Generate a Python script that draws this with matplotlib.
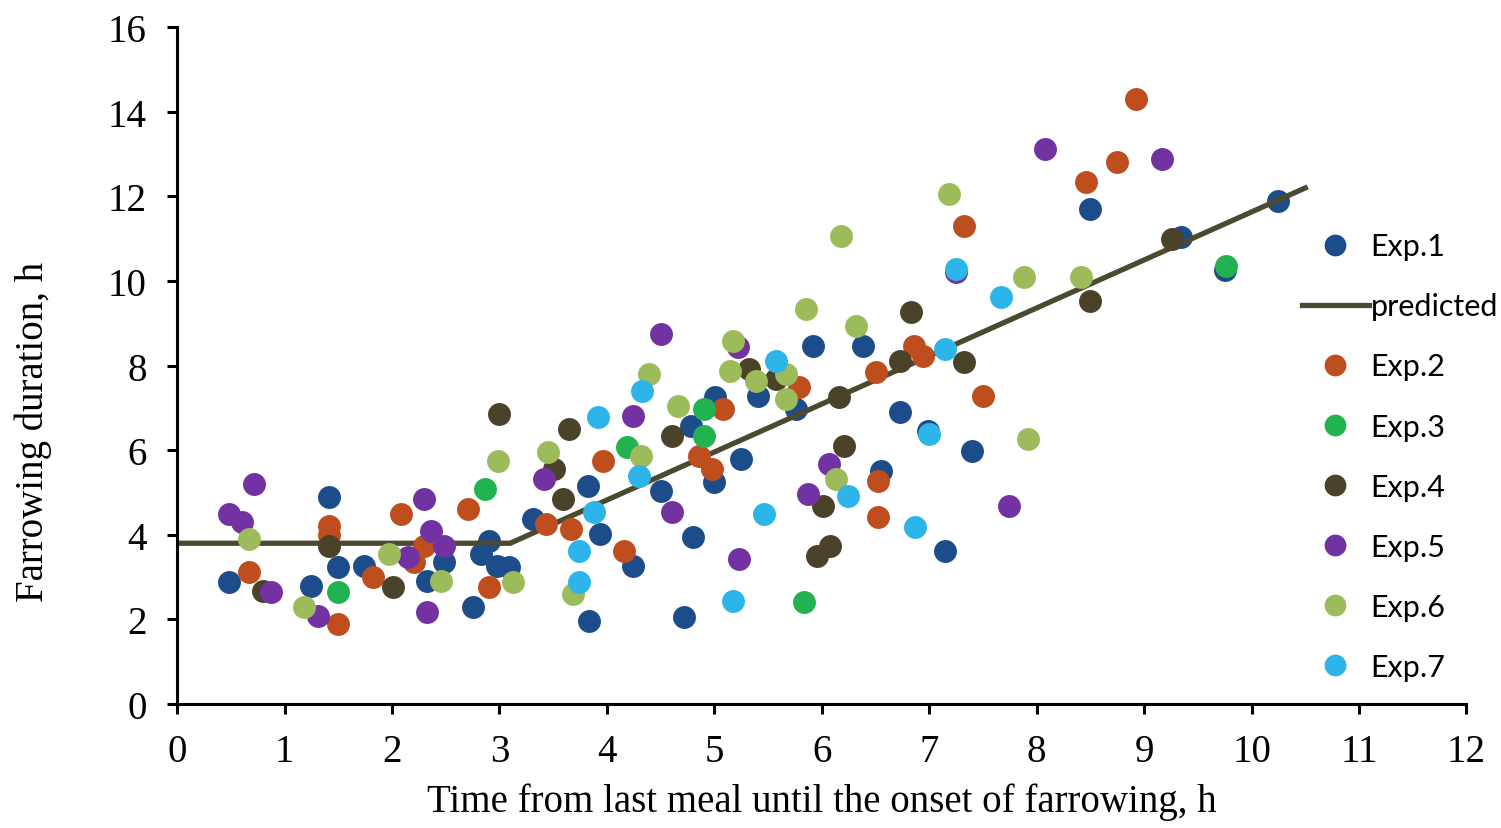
'''
Farrowing duration vs time since last meal, by experiment
'''
import matplotlib
matplotlib.use('Agg')
import matplotlib.pyplot as plt

exp1_x = [0.48, 1.25, 1.41, 1.50, 1.74, 2.33, 2.48, 2.75, 2.83, 2.90, 2.98, 3.09, 3.31, 3.82, 3.83,
          3.94, 4.24, 4.50, 4.72, 4.78, 4.80, 5.00, 5.01, 5.25, 5.41, 5.76, 5.92, 6.38, 6.55, 6.73,
          6.99, 7.15, 7.40, 8.50, 9.34, 9.75, 10.25]
exp1_y = [2.88, 2.79, 4.89, 3.24, 3.27, 2.91, 3.35, 2.29, 3.55, 3.85, 3.27, 3.24, 4.37, 5.15, 1.96,
          4.02, 3.26, 5.04, 2.06, 6.57, 3.95, 5.25, 7.25, 5.79, 7.28, 6.97, 8.47, 8.47, 5.51, 6.90,
          6.45, 3.62, 5.98, 11.70, 11.04, 10.25, 11.89]

exp2_x = [0.67, 1.41, 1.41, 1.50, 1.82, 2.08, 2.20, 2.30, 2.71, 2.90, 3.43, 3.67, 3.96, 4.16, 4.86,
          4.98, 5.08, 5.79, 6.50, 6.52, 6.52, 6.86, 6.94, 7.32, 7.50, 8.46, 8.75, 8.92]
exp2_y = [3.12, 4.21, 4.00, 1.89, 3.00, 4.49, 3.35, 3.73, 4.61, 2.77, 4.26, 4.13, 5.74, 3.61, 5.87,
          5.55, 6.97, 7.49, 7.84, 5.27, 4.42, 8.47, 8.23, 11.30, 7.28, 12.34, 12.81, 14.30]

exp3_x = [1.50, 2.87, 4.19, 4.90, 4.90, 5.83, 9.76]
exp3_y = [2.65, 5.08, 6.08, 6.97, 6.34, 2.41, 10.35]

exp4_x = [0.80, 1.41, 2.01, 3.00, 3.51, 3.59, 3.65, 4.61, 5.32, 5.57, 5.96, 6.01, 6.08, 6.16, 6.21,
          6.73, 6.83, 7.32, 8.50, 9.26]
exp4_y = [2.67, 3.74, 2.77, 6.86, 5.55, 4.85, 6.50, 6.34, 7.92, 7.68, 3.50, 4.68, 3.74, 7.26, 6.10,
          8.11, 9.27, 8.08, 9.53, 10.99]

exp5_x = [0.48, 0.60, 0.72, 0.87, 1.31, 2.15, 2.30, 2.33, 2.36, 2.48, 3.41, 4.24, 4.50, 4.61, 5.22,
          5.23, 5.87, 6.07, 7.25, 7.74, 8.08, 9.17]
exp5_y = [4.49, 4.30, 5.20, 2.65, 2.08, 3.47, 4.85, 2.17, 4.09, 3.74, 5.32, 6.81, 8.75, 4.53, 8.44,
          3.43, 4.96, 5.67, 10.21, 4.68, 13.12, 12.88]

exp6_x = [0.67, 1.18, 1.97, 2.46, 2.99, 3.13, 3.45, 3.68, 4.32, 4.39, 4.66, 5.15, 5.17, 5.39, 5.67,
          5.67, 5.85, 6.13, 6.18, 6.32, 7.18, 7.88, 7.92, 8.41]
exp6_y = [3.90, 2.29, 3.55, 2.91, 5.74, 2.88, 5.96, 2.60, 5.87, 7.80, 7.04, 7.87, 8.58, 7.64, 7.80,
          7.21, 9.34, 5.32, 11.06, 8.94, 12.06, 10.09, 6.26, 10.09]

exp7_x = [3.74, 3.74, 3.88, 3.92, 4.30, 4.33, 5.17, 5.46, 5.57, 6.24, 6.87, 7.00, 7.15, 7.25, 7.67]
exp7_y = [2.88, 3.61, 4.53, 6.78, 5.39, 7.40, 2.43, 4.49, 8.11, 4.92, 4.18, 6.38, 8.39, 10.28, 9.62]

pred_x = [0, 3.1, 10.5]
pred_y = [3.8, 3.8, 12.2]

series = [
    ('Exp.2', exp2_x, exp2_y, '#BF4E1E'),
    ('Exp.3', exp3_x, exp3_y, '#22B24F'),
    ('Exp.4', exp4_x, exp4_y, '#4A4229'),
    ('Exp.5', exp5_x, exp5_y, '#7232A2'),
    ('Exp.6', exp6_x, exp6_y, '#9CBB5A'),
    ('Exp.7', exp7_x, exp7_y, '#2DB4E8'),
]

fig = plt.figure(figsize=(15.01, 8.29), dpi=100)
ax = fig.add_axes([0.118, 0.1496, 0.859, 0.8164])

ms = 16.5
ax.plot(exp1_x, exp1_y, 'o', color='#1C4D8A', markersize=ms, markeredgewidth=0, label='Exp.1')
ax.plot(pred_x, pred_y, '-', color='#4B4930', linewidth=3.8, label='predicted')
for name, xs, ys, col in series:
    ax.plot(xs, ys, 'o', color=col, markersize=ms, markeredgewidth=0, label=name)

ax.set_xlim(0, 12)
ax.set_ylim(0, 16)
ax.set_xticks(range(0, 13))
ax.set_yticks(range(0, 17, 2))

serif = ['Liberation Serif', 'DejaVu Serif']
for lab in ax.get_xticklabels() + ax.get_yticklabels():
    lab.set_family(serif)
    lab.set_fontsize(28)
ax.set_xlabel('Time from last meal until the onset of farrowing, h', family=serif, fontsize=28, labelpad=9)
ax.set_ylabel('Farrowing duration, h', family=serif, fontsize=28)
ax.yaxis.set_label_coords(-0.097, 0.403)

for side in ['top', 'right']:
    ax.spines[side].set_visible(False)
for side in ['left', 'bottom']:
    ax.spines[side].set_linewidth(2.2)
ax.tick_params(direction='out', length=7, width=2.2)
ax.tick_params(axis='x', pad=14)
ax.tick_params(axis='y', pad=15)

fig.legend(loc='upper left', bbox_to_anchor=(0.857, 0.737), frameon=False,
           prop={'family': 'Lato', 'size': 22}, labelspacing=1.05,
           handlelength=2.2, handletextpad=0.05, borderpad=0, markerscale=0.95)

fig.savefig('out.png', dpi=100)
